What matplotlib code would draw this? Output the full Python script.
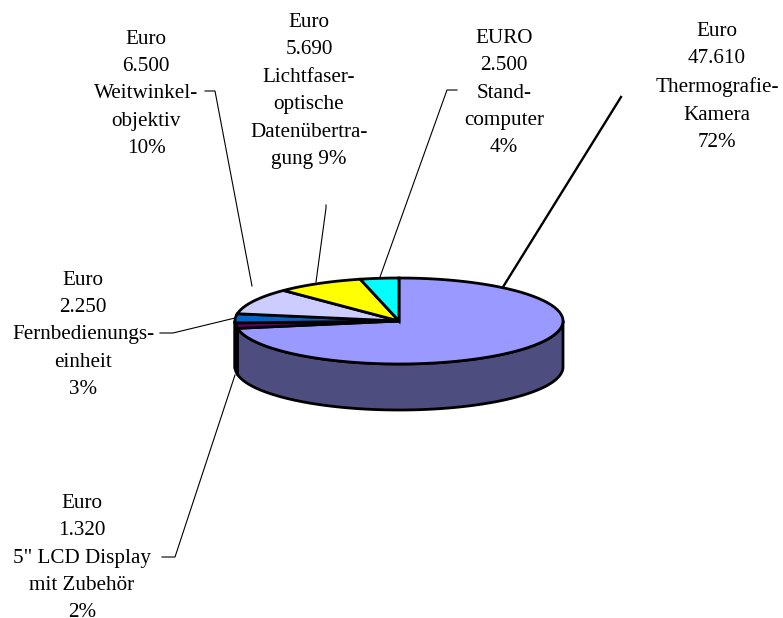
import numpy as np
import matplotlib
matplotlib.use('Agg')
import matplotlib.pyplot as plt

plt.rcParams['font.family'] = ['Liberation Serif', 'DejaVu Serif']

########################### data
names = ['Thermografie-Kamera', '5" LCD Display', 'Fernbedienungseinheit', 'Weitwinkelobjektiv', 'Datenuebertragung', 'Standcomputer']
euro = [47610, 1320, 2250, 6500, 5690, 2500]
top_colors = ['#9999ff', '#660066', '#0066cc', '#ccccff', '#ffff00', '#00ffff']
side_colors = ['#4d4d80', '#330033', '#003366', '#666680', '#808000', '#008080']

labels = [
    'Euro\n47.610\nThermografie-\nKamera\n72%',
    'Euro\n1.320\n5" LCD Display\nmit Zubehör\n2%',
    'Euro\n2.250\nFernbedienungs-\neinheit\n3%',
    'Euro\n6.500\nWeitwinkel-\nobjektiv\n10%',
    'Euro\n5.690\nLichtfaser-\noptische\nDatenübertra-\ngung 9%',
    'EURO\n2.500\nStand-\ncomputer\n4%',
]
label_pos = [(717, 87), (82, 558), (83, 335), (146, 94), (309, 91), (504, 93)]
leaders = [
    [(621, 97), (503, 287)],
    [(162, 557), (175, 557), (235, 375)],
    [(160, 333), (173, 333), (235, 318)],
    [(205, 91), (215, 91), (252, 286)],
    [(326, 205), (326, 208), (316, 282)],
    [(457, 90), (447, 90), (380, 277)],
]
leader_lw = [1.7, 0.8, 0.8, 0.8, 0.8, 0.8]

cx, cy, rx, ry, depth = 399, 321, 164, 43, 46

########################### figure in pixel coordinates
fig = plt.figure(figsize=(7.83, 6.18), dpi=100)
ax = fig.add_axes([0, 0, 1, 1])
ax.set_xlim(0, 783)
ax.set_ylim(618, 0)
ax.axis('off')


def rim(a0, a1, dy=0):
    a = np.radians(np.linspace(a0, a1, 200))
    return cx + rx * np.sin(a), cy + dy - ry * np.cos(a)


edges = np.concatenate([[0], np.cumsum(euro)]) / sum(euro) * 360

# leader lines
for pts, lw in zip(leaders, leader_lw):
    ax.plot([p[0] for p in pts], [p[1] for p in pts], color='black', lw=lw, zorder=1)

# side wall, only the front half of the ellipse shows
for i in range(len(euro)):
    a0, a1 = max(edges[i], 90), min(edges[i + 1], 270)
    if a0 >= a1:
        continue
    x, y = rim(a0, a1)
    xb, yb = rim(a0, a1, depth)
    ax.fill(np.r_[x, xb[::-1]], np.r_[y, yb[::-1]], facecolor=side_colors[i],
            edgecolor='black', lw=2.0, joinstyle='round', zorder=2)

# top face
for i in range(len(euro)):
    x, y = rim(edges[i], edges[i + 1])
    ax.fill(np.r_[cx, x], np.r_[cy, y], facecolor=top_colors[i],
            edgecolor='black', lw=2.0, joinstyle='miter', zorder=3)

for s, pos in zip(labels, label_pos):
    ax.text(pos[0], pos[1], s, ha='center', va='center', ma='center',
            fontsize=15.2, linespacing=1.6, color='black', zorder=4)

plt.savefig('out.png', dpi=100)
plt.close()
